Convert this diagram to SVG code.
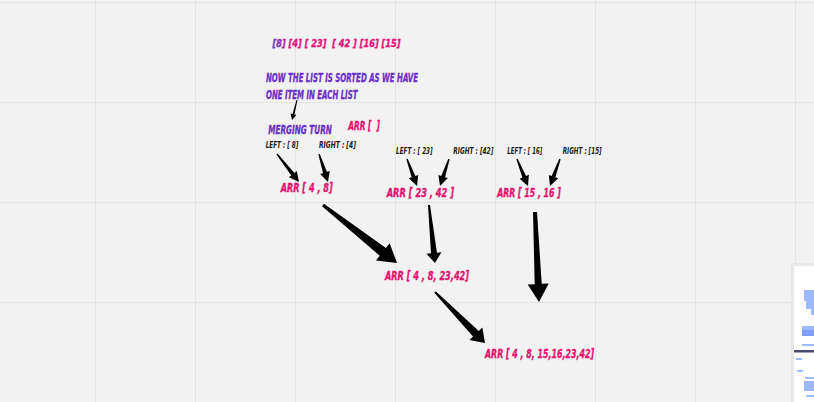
<svg xmlns="http://www.w3.org/2000/svg" width="814" height="402" viewBox="0 0 814 402">
<defs>
<linearGradient id="topGrad" gradientUnits="userSpaceOnUse" x1="272" y1="0" x2="292" y2="0">
<stop offset="0" stop-color="#6a35d0"/>
<stop offset="1" stop-color="#e3157a"/>
</linearGradient>
<style>
.grid{stroke:#e3e3e3;stroke-width:1;fill:none}
.t{font-family:"Liberation Sans Narrow","DejaVu Sans Condensed","Liberation Sans",sans-serif;font-weight:bold;font-style:italic;white-space:pre}
.pink{fill:#e5136f;stroke:#e5136f;stroke-width:0.35px;font-size:11.5px}
.purple{fill:#6a2fc8;stroke:#6a2fc8;stroke-width:0.35px;font-size:12px}
.lbl{fill:#1a1a1a;font-size:8.5px}
.arrow{fill:#000}
.blue{fill:#9db9ff}
.blue2{fill:#7f9ff7}
</style>
</defs>
<rect x="0" y="0" width="814" height="402" fill="#f2f2f2"/>
<g id="grid">
<line class="grid" x1="0" y1="2.5" x2="814" y2="2.5" stroke-width="2"/>
<line class="grid" x1="0" y1="102.5" x2="814" y2="102.5"/>
<line class="grid" x1="0" y1="202.5" x2="814" y2="202.5"/>
<line class="grid" x1="0" y1="302.5" x2="814" y2="302.5"/>
<line class="grid" x1="95.5" y1="0" x2="95.5" y2="402"/>
<line class="grid" x1="195.5" y1="0" x2="195.5" y2="402"/>
<line class="grid" x1="295.5" y1="0" x2="295.5" y2="402"/>
<line class="grid" x1="395.5" y1="0" x2="395.5" y2="402"/>
<line class="grid" x1="495.5" y1="0" x2="495.5" y2="402"/>
<line class="grid" x1="595.5" y1="0" x2="595.5" y2="402"/>
<line class="grid" x1="695.5" y1="0" x2="695.5" y2="402"/>
<line class="grid" x1="795.5" y1="0" x2="795.5" y2="402"/>
</g>
<g id="side-panel">
<rect x="791" y="263" width="23" height="139" fill="#e8e8e8"/>
<rect x="794" y="266" width="20" height="136" fill="#ffffff"/>
<rect class="blue" x="804" y="290" width="10" height="11"/>
<rect class="blue" x="806" y="301" width="8" height="8"/>
<rect class="blue" x="811" y="309" width="3" height="6"/>
<rect class="blue" x="802" y="326" width="12" height="4"/>
<rect class="blue2" x="802" y="330" width="12" height="6"/>
<rect class="blue" x="802" y="344" width="12" height="2"/>
<rect x="794" y="350" width="20" height="2.5" fill="#4a4a6e"/>
<rect class="blue" x="796" y="358" width="6" height="2"/>
<rect class="blue" x="797" y="370" width="6" height="2"/>
<rect class="blue" x="805" y="377" width="9" height="2"/>
<rect class="blue" x="804" y="381" width="10" height="10"/>
<rect class="blue" x="806" y="395" width="8" height="2"/>
</g>
<g id="connectors">
<polygon class="arrow" points="296.52,99.88 292.49,113.94 290.55,113.45 292,120 296.37,114.91 294.43,114.42 297.49,100.12"/>
<polygon class="arrow" points="276.45,154.43 291.25,175.38 288.89,177.23 299,182 296.75,171.05 294.39,172.90 277.55,153.57"/>
<polygon class="arrow" points="318.33,154.21 323.04,173.09 320.18,174.01 328,182 329.70,170.95 326.84,171.87 319.67,153.79"/>
<polygon class="arrow" points="406.34,159.24 411.65,177.31 408.84,178.36 417,186 418.22,174.89 415.41,175.93 407.66,158.76"/>
<polygon class="arrow" points="448.34,158.78 441.26,175.88 438.42,174.93 440,186 447.91,178.09 445.06,177.14 449.66,159.22"/>
<polygon class="arrow" points="516.35,159.26 522.38,177.49 519.60,178.63 528,186 528.86,174.86 526.08,175.99 517.65,158.74"/>
<polygon class="arrow" points="559.34,158.76 551.59,175.93 548.78,174.89 550,186 558.16,178.36 555.35,177.31 560.66,159.24"/>
<polygon class="arrow" points="322.07,206.18 379.74,255.83 376.04,260.55 397,263 389.62,243.23 385.92,247.96 323.93,203.82"/>
<polygon class="arrow" points="428.01,205.10 430.99,253.36 426.51,253.82 435,263 441.43,252.28 436.96,252.74 429.99,204.90"/>
<polygon class="arrow" points="533.00,212.09 534.70,284.18 527.71,284.49 539,302 548.69,283.55 541.70,283.86 537.00,211.91"/>
<polygon class="arrow" points="434.29,292.70 473.04,336.52 469.47,340.02 485,343 482.33,327.42 478.76,330.92 435.71,291.30"/>
</g>
<g id="initial-list"><text class="t" x="272.5" y="47" font-size="11px" fill="url(#topGrad)" stroke="url(#topGrad)" stroke-width="0.35" textLength="128" lengthAdjust="spacingAndGlyphs">[8] [4] [ 23]  [ 42 ] [16] [15]</text></g>
<g id="note">
<text class="t purple" x="266" y="81.5" textLength="152" lengthAdjust="spacingAndGlyphs">NOW THE LIST IS SORTED AS WE HAVE</text>
<text class="t purple" x="266" y="99.3" textLength="91.5" lengthAdjust="spacingAndGlyphs">ONE ITEM IN EACH LIST</text>
</g>
<g id="merging-turn"><text class="t purple" x="268.3" y="134" textLength="63.5" lengthAdjust="spacingAndGlyphs">MERGING TURN</text></g>
<g id="arr-empty"><text class="t pink" x="348.3" y="130" textLength="31.7" lengthAdjust="spacingAndGlyphs">ARR [  ]</text></g>
<g id="left-8"><text class="t lbl" x="265.7" y="148.3" textLength="32.6" lengthAdjust="spacingAndGlyphs">LEFT : [ 8]</text></g>
<g id="right-4"><text class="t lbl" x="319" y="148.3" textLength="37" lengthAdjust="spacingAndGlyphs">RIGHT : [4]</text></g>
<g id="arr-4-8"><text class="t pink" x="280.7" y="192" textLength="52" lengthAdjust="spacingAndGlyphs">ARR [ 4 , 8]</text></g>
<g id="left-23"><text class="t lbl" x="396" y="153.5" textLength="36.7" lengthAdjust="spacingAndGlyphs">LEFT : [ 23]</text></g>
<g id="right-42"><text class="t lbl" x="453.3" y="153.5" textLength="40" lengthAdjust="spacingAndGlyphs">RIGHT : [42]</text></g>
<g id="left-16"><text class="t lbl" x="507.3" y="153.5" textLength="35" lengthAdjust="spacingAndGlyphs">LEFT : [ 16]</text></g>
<g id="right-15"><text class="t lbl" x="562.7" y="153.5" textLength="39" lengthAdjust="spacingAndGlyphs">RIGHT : [15]</text></g>
<g id="arr-23-42"><text class="t pink" x="386.7" y="196.5" textLength="67.3" lengthAdjust="spacingAndGlyphs">ARR [ 23 , 42 ]</text></g>
<g id="arr-15-16"><text class="t pink" x="497.3" y="196.5" textLength="63.4" lengthAdjust="spacingAndGlyphs">ARR [ 15 , 16 ]</text></g>
<g id="arr-4-8-23-42"><text class="t pink" x="385" y="279.5" textLength="84" lengthAdjust="spacingAndGlyphs">ARR [ 4 , 8, 23,42]</text></g>
<g id="arr-final"><text class="t pink" x="485" y="358" textLength="109" lengthAdjust="spacingAndGlyphs">ARR [ 4 , 8, 15,16,23,42]</text></g>
</svg>
